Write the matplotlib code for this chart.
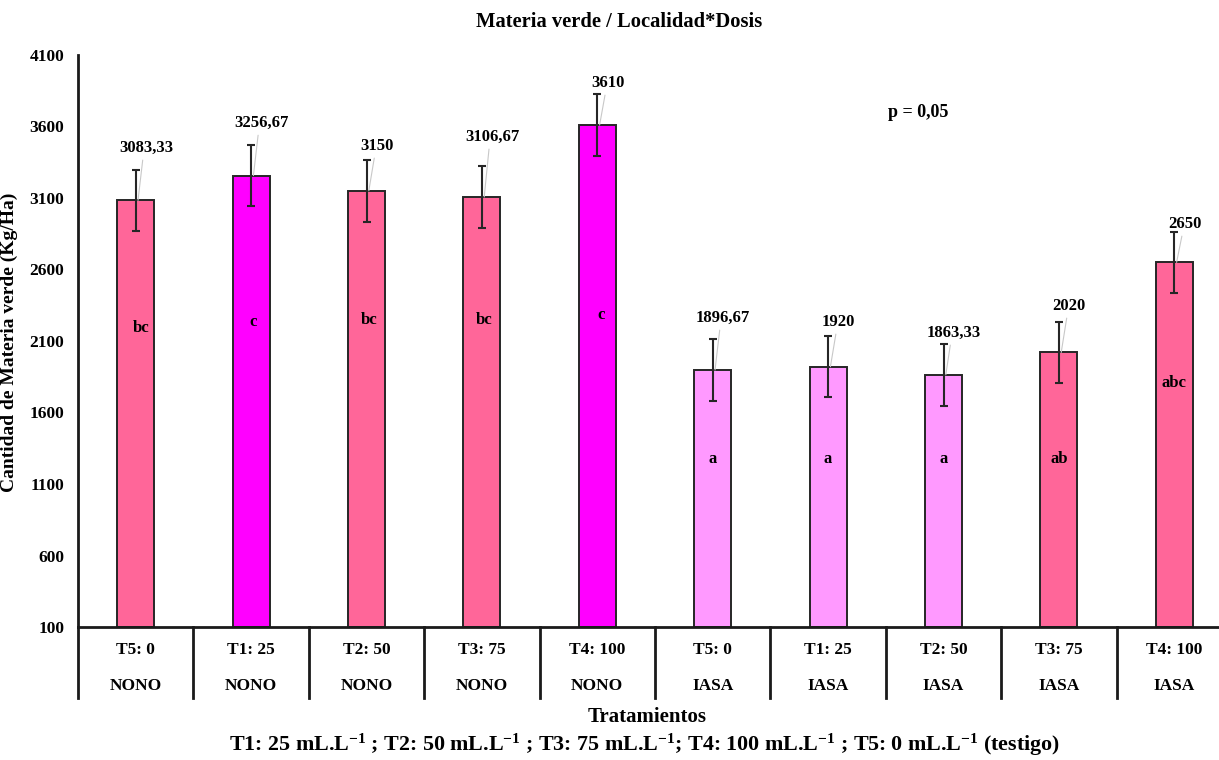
import matplotlib
matplotlib.use("Agg")
import matplotlib.pyplot as plt
import matplotlib.transforms as mtransforms
import numpy as np

plt.rcParams["font.family"] = ["Liberation Serif", "DejaVu Serif"]
plt.rcParams["font.weight"] = "bold"
plt.rcParams["mathtext.fontset"] = "custom"
plt.rcParams["mathtext.rm"] = "Liberation Serif:bold"
plt.rcParams["mathtext.bf"] = "Liberation Serif:bold"
plt.rcParams["mathtext.default"] = "rm"

# ---- data ----
doses = ["T5: 0", "T1: 25", "T2: 50", "T3: 75", "T4: 100",
         "T5: 0", "T1: 25", "T2: 50", "T3: 75", "T4: 100"]
sites = ["NONO"] * 5 + ["IASA"] * 5
yield_kg = [3083.33, 3256.67, 3150, 3106.67, 3610,
            1896.67, 1920, 1863.33, 2020, 2650]
std_err = [215, 215, 215, 215, 215, 215, 215, 215, 215, 215]
groups = ["bc", "c", "bc", "bc", "c", "a", "a", "a", "ab", "abc"]

# where the value labels and the Tukey letters sit (data units)
value_label_y = [3450, 3624, 3464, 3527, 3904, 2261, 2233, 2156, 2345, 2918]
letter_y = [2191, 2233, 2247, 2247, 2282, 1275, 1275, 1275, 1275, 1806]
letter_dx = [0.05, 0.02, 0.02, 0.02, 0.03, 0.0, 0.0, 0.0, 0.0, 0.0]

colors = ["#FF6699", "#FF00FF", "#FF6699", "#FF6699", "#FF00FF",
          "#FF99FF", "#FF99FF", "#FF99FF", "#FF6699", "#FF6699"]


def fmt(v):
    s = f"{v:.2f}".rstrip("0").rstrip(".")
    return s.replace(".", ",")


fig = plt.figure(figsize=(12.19, 7.6), dpi=100)
ax = fig.add_axes([78 / 1219, 133 / 760, 1154 / 1219, 572 / 760])

x = np.arange(len(yield_kg))
ax.bar(x, np.array(yield_kg) - 100, bottom=100, width=0.32, color=colors,
       edgecolor="#262626", linewidth=1.4, zorder=2)
ax.errorbar(x, yield_kg, yerr=std_err, fmt="none", ecolor="#262626",
            elinewidth=1.5, capsize=3, capthick=1.5, zorder=3)

for i, v in enumerate(yield_kg):
    ax.annotate(fmt(v), xy=(i + 0.02, v), xytext=(i + 0.09, value_label_y[i]),
                ha="center", va="center", fontsize=12, fontweight="bold",
                arrowprops=dict(arrowstyle="-", color="#c8c8c8", lw=0.8,
                                shrinkA=1, shrinkB=0, relpos=(0.45, 0.1)),
                zorder=4)
    ax.text(i + letter_dx[i], letter_y[i], groups[i], ha="center", va="center",
            fontsize=12, fontweight="bold", zorder=4)

ax.text(6.78, 3700, "p = 0,05", ha="center", va="center", fontsize=13,
        fontweight="bold")

ax.set_xlim(-0.5, len(x) - 0.5)
ax.set_ylim(100, 4100)
ax.set_yticks(np.arange(100, 4101, 500))
ax.tick_params(axis="y", length=0, pad=10, labelsize=12.5)
ax.set_xticks([])
for side in ["top", "right", "bottom"]:
    ax.spines[side].set_visible(False)
ax.spines["left"].set_linewidth(2)
ax.spines["left"].set_color("#1a1a1a")

# two-level category axis drawn under the bars
trans = mtransforms.blended_transform_factory(ax.transData, ax.transAxes)
ax.plot([-0.5, len(x) - 0.5], [0, 0], transform=trans, color="#1a1a1a",
        lw=2, clip_on=False, zorder=5)
for b in np.arange(-0.5, len(x) - 1, 1.0):
    ax.plot([b, b], [0, -0.124], transform=trans, color="#1a1a1a", lw=2,
            clip_on=False)
for i in x:
    ax.text(i, -0.040, doses[i], transform=trans, ha="center", va="center",
            fontsize=12.5, fontweight="bold")
    ax.text(i, -0.103, sites[i], transform=trans, ha="center", va="center",
            fontsize=12.5, fontweight="bold")

ax.set_ylabel("Cantidad de Materia verde (Kg/Ha)", fontsize=14,
              fontweight="bold")
ax.yaxis.set_label_coords(-60 / 1154, 0.497)

fig.text(619 / 1219, 1 - 22 / 760, "Materia verde / Localidad*Dosis",
         ha="center", va="center", fontsize=14.8, fontweight="bold")
fig.text(647 / 1219, 1 - 717 / 760, "Tratamientos", ha="center", va="center",
         fontsize=15, fontweight="bold")
fig.text(644 / 1219, 1 - 745 / 760,
         "T1: 25 mL.L$^{-1}$ ; T2: 50 mL.L$^{-1}$ ; T3: 75 mL.L$^{-1}$; "
         "T4: 100 mL.L$^{-1}$ ; T5: 0 mL.L$^{-1}$ (testigo)",
         ha="center", va="center", fontsize=15.8, fontweight="bold")

fig.savefig("out.png", dpi=100)
